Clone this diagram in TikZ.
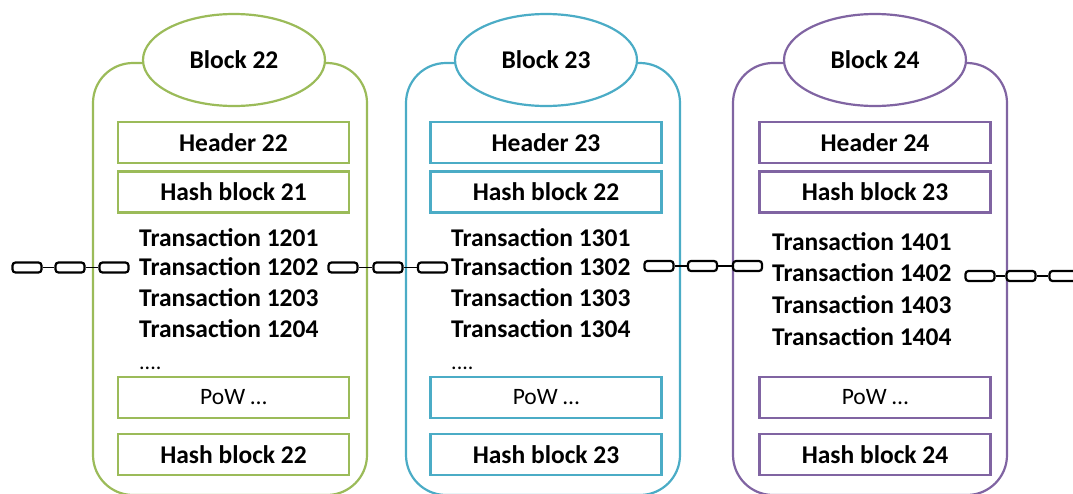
\documentclass[tikz,border=0pt]{standalone}
\usepackage{fontspec}
\setmainfont{Carlito}
\usetikzlibrary{shapes.geometric}
\definecolor{cgreen}{RGB}{155,187,89}
\definecolor{cblue}{RGB}{75,172,198}
\definecolor{cpurple}{RGB}{128,100,162}
\tikzset{
  frame/.style={draw=#1, line width=2.2pt, rounded corners=40pt, minimum width=274pt, minimum height=432pt, inner sep=0pt},
  title/.style={draw=#1, fill=white, line width=2.2pt, ellipse, minimum width=182pt, minimum height=92pt, inner sep=0pt, font=\fontsize{25.5}{28}\selectfont\bfseries},
  field/.style={draw=#1, line width=2.2pt, minimum width=231pt, minimum height=41pt, inner sep=0pt, font=\fontsize{25.5}{28}\selectfont\bfseries},
  pow/.style={draw=#1, line width=2.2pt, minimum width=231pt, minimum height=41pt, inner sep=0pt, font=\fontsize{23.5}{26}\selectfont},
  tx/.style={anchor=west, inner sep=0pt, font=\fontsize{25.5}{28}\selectfont\bfseries},
  dots/.style={anchor=base west, inner sep=0pt, font=\fontsize{22}{26}\selectfont},
  link/.style={draw=black, fill=white, line width=2.2pt, rounded corners=3pt, minimum width=29pt, minimum height=10pt, inner sep=0pt},
  joint/.style={draw=black, line width=1.8pt}
}
\begin{document}
\begin{tikzpicture}[x=1pt, y=-1pt]
\useasboundingbox (0,0) rectangle (1073,493);
\clip (0,0) rectangle (1073,493);

% ---- Block 22 ----
\node[frame=cgreen] (f22) at (230,279) {};
\node[title=cgreen] (b22) at (234,60) {Block 22};
\node[field=cgreen] (h22) at (233.5,142.5) {Header 22};
\node[field=cgreen] (p22) at (233.5,192) {Hash block 21};
\node[tx] (t1201) at (139,238) {Transaction 1201};
\node[tx] (t1202) at (139,267) {Transaction 1202};
\node[tx] (t1203) at (139,298) {Transaction 1203};
\node[tx] (t1204) at (139,329) {Transaction 1204};
\node[dots] (d22) at (139,369) {....};
\node[pow=cgreen] (w22) at (233.5,397.5) {PoW \dots};
\node[field=cgreen] (s22) at (233.5,454.5) {Hash block 22};

% ---- Block 23 ----
\node[frame=cblue] (f23) at (543,279) {};
\node[title=cblue] (b23) at (546,60) {Block 23};
\node[field=cblue] (h23) at (546,142.5) {Header 23};
\node[field=cblue] (p23) at (546,192) {Hash block 22};
\node[tx] (t1301) at (451,238) {Transaction 1301};
\node[tx] (t1302) at (451,267) {Transaction 1302};
\node[tx] (t1303) at (451,298) {Transaction 1303};
\node[tx] (t1304) at (451,329) {Transaction 1304};
\node[dots] (d23) at (451,369) {....};
\node[pow=cblue] (w23) at (546,397.5) {PoW \dots};
\node[field=cblue] (s23) at (546,454.5) {Hash block 23};

% ---- Block 24 ----
\node[frame=cpurple] (f24) at (870,279) {};
\node[title=cpurple] (b24) at (875,60) {Block 24};
\node[field=cpurple] (h24) at (875,142.5) {Header 24};
\node[field=cpurple] (p24) at (875,192) {Hash block 23};
\node[tx] (t1401) at (772,242) {Transaction 1401};
\node[tx] (t1402) at (772,273) {Transaction 1402};
\node[tx] (t1403) at (772,305) {Transaction 1403};
\node[tx] (t1404) at (772,337) {Transaction 1404};
\node[pow=cpurple] (w24) at (875,397.5) {PoW \dots};
\node[field=cpurple] (s24) at (875,454.5) {Hash block 24};

% ---- chains between blocks ----
\node[link] (ca1) at (27,267.5) {};
\node[link] (ca2) at (70,267.5) {};
\node[link] (ca3) at (114,267.5) {};
\draw[joint] (ca1) -- (ca2);
\draw[joint] (ca2) -- (ca3);

\node[link] (cb1) at (343,267.5) {};
\node[link] (cb2) at (388,267.5) {};
\node[link] (cb3) at (432.5,267.5) {};
\draw[joint] (cb1) -- (cb2);
\draw[joint] (cb2) -- (cb3);

\node[link] (cc1) at (659,266) {};
\node[link] (cc2) at (702.5,266) {};
\node[link] (cc3) at (747.5,266) {};
\draw[joint] (cc1) -- (cc2);
\draw[joint] (cc2) -- (cc3);

\node[link] (cd1) at (980,276) {};
\node[link] (cd2) at (1021,276) {};
\node[link] (cd3) at (1064,276) {};
\draw[joint] (cd1) -- (cd2);
\draw[joint] (cd2) -- (cd3);
\end{tikzpicture}
\end{document}
